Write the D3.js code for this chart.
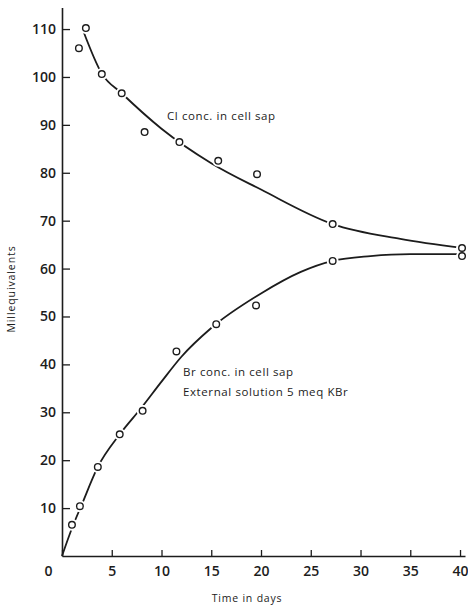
<!DOCTYPE html>
<html>
<head>
<meta charset="utf-8">
<script src="https://cdn.jsdelivr.net/npm/d3@7"></script>
<style>
  body { margin: 0; background: #fff; }
  text { font-family: "Open Sans", sans-serif; fill: #1c1c1c; }
</style>
</head>
<body>
<div class="canvas"></div>
<script>
// measured points (days, meq)
const clDays = [1.7, 2.4, 4.0, 6.0, 8.3, 11.8, 15.7, 19.6, 27.2, 40.2];
const clMeq = [106, 110.2, 100.6, 96.6, 88.5, 86.4, 82.5, 79.7, 69.3, 64.3];
const brDays = [1.0, 1.8, 3.6, 5.8, 8.1, 11.5, 15.5, 19.5, 27.2, 40.2];
const brMeq = [6.5, 10.4, 18.6, 25.4, 30.3, 42.7, 48.4, 52.3, 61.6, 62.6];

// hand drawn curves
const clFitDays = [2.1, 4, 6, 10, 15, 20, 27.2, 34, 40.2];
const clFitMeq = [109.8, 100.7, 96.6, 89.2, 82, 76.5, 69.3, 66.2, 64.3];
const brFitDays = [0, 1, 2, 3.6, 5.8, 8, 10, 12, 15, 20, 24, 27.2, 31, 35, 40.2];
const brFitMeq = [0, 5.8, 10.8, 18.6, 25.4, 31, 36.4, 41.6, 47.6, 54.8, 59.3, 61.6, 62.6, 63.0, 63.0];

const xTicks = [0, 5, 10, 15, 20, 25, 30, 35, 40];
const yTicks = [10, 20, 30, 40, 50, 60, 70, 80, 90, 100, 110];

const ink = '#1c1c1c';

const svg = d3.select('.canvas')
    .append('svg')
    .attr('width', 468)
    .attr('height', 612);

const x = d3.scaleLinear().domain([0, 40.5]).range([62, 465]);
const y = d3.scaleLinear().domain([0, 114.5]).range([556, 7.5]);

// axes
const xAxis = d3.axisBottom(x)
    .tickValues(xTicks)
    .tickSizeInner(-6)
    .tickSizeOuter(0)
    .tickPadding(10);
const yAxis = d3.axisLeft(y)
    .tickValues(yTicks)
    .tickSizeInner(-8)
    .tickSizeOuter(0)
    .tickPadding(6);

const xAxisGroup = svg.append('g')
    .attr('transform', `translate(0, ${y(0)})`)
    .call(xAxis);
const yAxisGroup = svg.append('g')
    .attr('transform', `translate(${x(0)}, 0)`)
    .call(yAxis);

[xAxisGroup, yAxisGroup].forEach(g => {
    g.select('.domain').attr('stroke', ink).attr('stroke-width', 1.6);
    g.selectAll('.tick line').attr('stroke', ink).attr('stroke-width', 1.3);
    g.selectAll('.tick text')
        .attr('fill', ink)
        .style('font-family', '"Open Sans", sans-serif')
        .style('font-size', '14px')
        .style('font-weight', 600);
});
// the zero sits left of the origin
xAxisGroup.selectAll('.tick')
    .filter(d => d === 0)
    .select('text')
    .attr('x', -14);

// curves
const line = d3.line()
    .x(d => x(d[0]))
    .y(d => y(d[1]))
    .curve(d3.curveMonotoneX);

const clFit = clFitDays.map((d, i) => [d, clFitMeq[i]]);
const brFit = brFitDays.map((d, i) => [d, brFitMeq[i]]);

svg.selectAll('path.fit')
    .data([clFit, brFit])
    .enter()
    .append('path')
    .attr('class', 'fit')
    .attr('d', line)
    .attr('fill', 'none')
    .attr('stroke', ink)
    .attr('stroke-width', 1.8);

// points
const pts = clDays.map((d, i) => [d, clMeq[i]])
    .concat(brDays.map((d, i) => [d, brMeq[i]]));

svg.selectAll('circle.halo')
    .data(pts)
    .enter()
    .append('circle')
    .attr('class', 'halo')
    .attr('cx', d => x(d[0]))
    .attr('cy', d => y(d[1]))
    .attr('r', 6)
    .attr('fill', '#fff');

svg.selectAll('circle.pt')
    .data(pts)
    .enter()
    .append('circle')
    .attr('class', 'pt')
    .attr('cx', d => x(d[0]))
    .attr('cy', d => y(d[1]))
    .attr('r', 3.3)
    .attr('fill', '#fff')
    .attr('stroke', ink)
    .attr('stroke-width', 1.4);

// labels
const note = (tx, ty, str) => svg.append('text')
    .attr('x', tx)
    .attr('y', ty)
    .style('font-size', '11.5px')
    .style('letter-spacing', '0.6px')
    .text(str);

note(167, 120, 'Cl conc. in cell sap');
note(183, 376, 'Br conc. in cell sap');
note(183, 396, 'External solution 5 meq KBr');

svg.append('text')
    .attr('x', 247)
    .attr('y', 602)
    .attr('text-anchor', 'middle')
    .style('font-size', '10.5px')
    .style('letter-spacing', '0.8px')
    .text('Time in days');

svg.append('text')
    .attr('transform', 'translate(15, 289) rotate(-90)')
    .attr('text-anchor', 'middle')
    .style('font-size', '10.5px')
    .style('letter-spacing', '0.9px')
    .text('Millequivalents');
</script>
</body>
</html>
